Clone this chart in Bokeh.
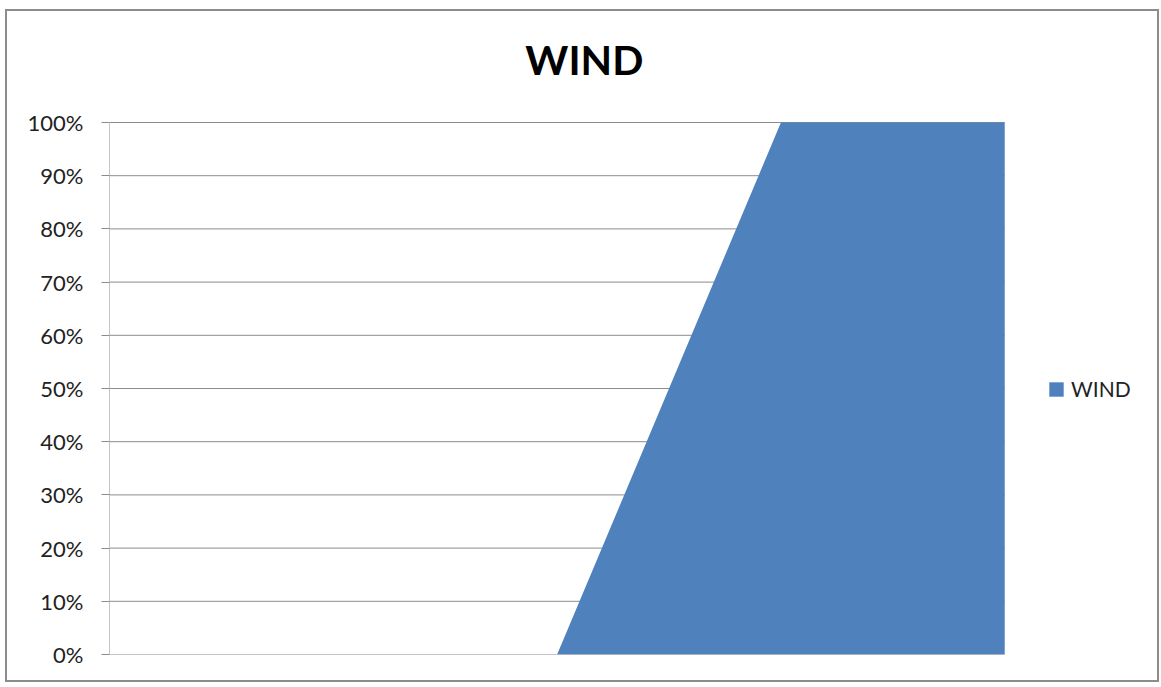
from bokeh.plotting import figure
from bokeh.models import (Range1d, FixedTicker, Legend, LegendItem, Label,
                          ColumnDataSource)
from bokeh.embed import file_html
from bokeh.resources import INLINE

# Category positions along the x axis (no labels are shown)
periods = ["P1", "P2", "P3", "P4", "P5"]
# Share of WIND per period, in percent (100% stacked area)
wind_share = [0, 0, 0, 100, 100]
# Vertical axis
y_ticks = [0, 10, 20, 30, 40, 50, 60, 70, 80, 90, 100]
y_tick_labels = ["0%", "10%", "20%", "30%", "40%", "50%", "60%",
                 "70%", "80%", "90%", "100%"]

FONT = "Lato"
GRID = "#8c8c8c"
BLUE = "#4f81bd"

# Page geometry (pixels): the chart body sits inside a wider frame so that
# the title and the legend can live in the same drawing area.
FRAME_LEFT, FRAME_RIGHT, FRAME_TOP, FRAME_BOTTOM = 108.5, 1162, 11, 654
BODY_RIGHT, BODY_TOP = 1005, 122

n = len(periods)
x_per_px = (n - 1) / (BODY_RIGHT - FRAME_LEFT)
y_per_px = 100 / (FRAME_BOTTOM - BODY_TOP)
x_end = (FRAME_RIGHT - FRAME_LEFT) * x_per_px
y_end = (FRAME_BOTTOM - FRAME_TOP) * y_per_px


def px_x(sx):
    return (sx - FRAME_LEFT) * x_per_px


def px_y(sy):
    return (FRAME_BOTTOM - sy) * y_per_px


x_pos = list(range(n))
src = ColumnDataSource(dict(x=x_pos, y=wind_share, base=[0] * n))

p = figure(width=1154, height=673, output_backend="svg", toolbar_location=None,
           x_range=Range1d(0, x_end), y_range=Range1d(0, y_end),
           min_border_left=102, min_border_right=0, min_border_top=0,
           min_border_bottom=30)
p.margin = (9, 0, 0, 5)
p.styles = {"border": "2px solid #8c8c8c", "box-sizing": "border-box"}

p.outline_line_color = None
p.background_fill_color = "white"
p.border_fill_color = "white"

# Horizontal gridlines across the category span, then the vertical axis line
p.segment(x0=[0] * len(y_ticks), x1=[n - 1] * len(y_ticks), y0=y_ticks,
          y1=y_ticks, line_color=GRID, line_width=1)
p.segment(x0=[0], x1=[0], y0=[y_ticks[0]], y1=[y_ticks[-1]],
          line_color=GRID, line_width=1)

area = p.varea(x="x", y1="base", y2="y", source=src, fill_color=BLUE)

# Axes
p.xaxis.visible = False
p.xgrid.grid_line_color = None
p.ygrid.grid_line_color = None

p.yaxis.ticker = FixedTicker(ticks=y_ticks)
p.yaxis.major_label_overrides = {t: lab for t, lab in zip(y_ticks, y_tick_labels)}
p.yaxis.major_label_text_font = FONT
p.yaxis.major_label_text_font_size = "22px"
p.yaxis.major_label_text_color = "#222222"
p.yaxis.major_tick_out = 8
p.yaxis.major_tick_in = 0
p.yaxis.minor_tick_line_color = None
p.yaxis.major_tick_line_color = GRID
p.yaxis.axis_line_color = None
p.yaxis.major_label_standoff = 18

# Title
p.add_layout(Label(x=px_x(584), y=px_y(59), text="WIND", text_align="center",
                   text_baseline="alphabetic", text_font=FONT,
                   text_font_style="bold", text_font_size="41px",
                   text_color="black"))

# Legend
legend = Legend(items=[LegendItem(label="WIND", renderers=[area])],
                location=(938, 253), glyph_width=18, glyph_height=18,
                label_standoff=6, padding=0, spacing=0,
                margin=0, label_text_font=FONT, label_text_font_size="21px",
                label_text_color="#222222", border_line_color=None,
                background_fill_alpha=0)
p.add_layout(legend)

open("out.html", "w").write(file_html(p, INLINE))
